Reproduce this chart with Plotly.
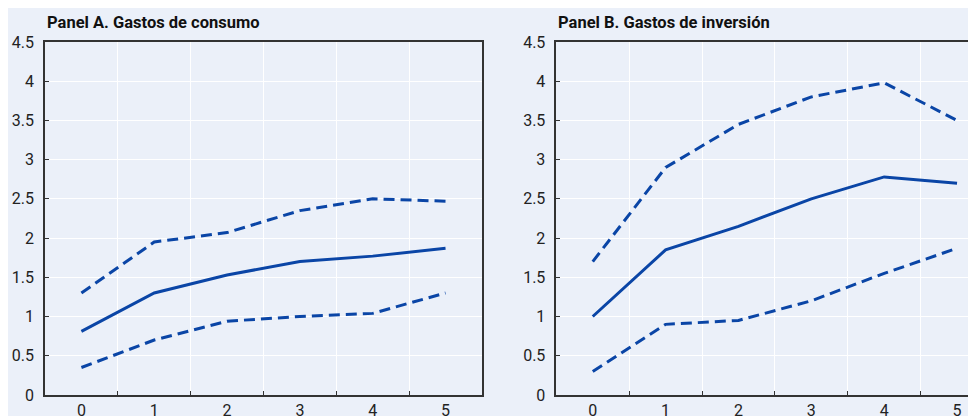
import plotly.graph_objects as go
from plotly.subplots import make_subplots

# horizon (years)
horizon = ["0", "1", "2", "3", "4", "5"]

# Panel A: consumption spending
cons_mid = [0.81, 1.30, 1.53, 1.70, 1.77, 1.87]
cons_hi = [1.30, 1.95, 2.07, 2.35, 2.50, 2.47]
cons_lo = [0.35, 0.70, 0.94, 1.00, 1.04, 1.30]

# Panel B: investment spending
inv_mid = [1.00, 1.85, 2.15, 2.50, 2.78, 2.70]
inv_hi = [1.70, 2.90, 3.45, 3.80, 3.98, 3.50]
inv_lo = [0.30, 0.90, 0.95, 1.20, 1.55, 1.87]

titles = ["Panel A. Gastos de consumo", "Panel B. Gastos de inversión"]

BG = "#EBF0F9"
BLUE = "#0A45A6"
AXIS = "#333333"
FONT = "Roboto, sans-serif"

fig = make_subplots(rows=1, cols=2)

panels = [(cons_mid, cons_hi, cons_lo), (inv_mid, inv_hi, inv_lo)]
for col, (mid, hi, lo) in enumerate(panels, start=1):
    fig.add_trace(go.Scatter(x=horizon, y=mid, mode="lines",
                             line=dict(color=BLUE, width=3)), row=1, col=col)
    for band in (hi, lo):
        fig.add_trace(go.Scatter(x=horizon, y=band, mode="lines",
                                 line=dict(color=BLUE, width=3, dash="11px,6px")),
                      row=1, col=col)

axis_common = dict(
    showline=True, linecolor=AXIS, linewidth=1.5, mirror=True,
    ticks="inside", ticklen=4, tickcolor=AXIS,
    showgrid=True, gridcolor="white", gridwidth=1.2,
    tickfont=dict(family=FONT, size=16, color="#222"),
    zeroline=False,
)

fig.update_xaxes(type="category", tickson="boundaries", **axis_common)
fig.update_yaxes(range=[0, 4.5], dtick=0.5, ticklabelstandoff=6, **axis_common)

xa = [0.0379, 0.4856]
xb = [0.5618, 1.0]
ydom = [0.048, 0.937]

fig.update_layout(
    xaxis=dict(domain=xa, range=[-0.5, 5.5]),
    xaxis2=dict(domain=xb, range=[-0.5, 5.37]),
    yaxis=dict(domain=ydom),
    yaxis2=dict(domain=ydom, mirror=False),
    width=976, height=416,
    margin=dict(l=0, r=0, t=0, b=0),
    paper_bgcolor=BG, plot_bgcolor=BG,
    showlegend=False,
)

for x0, t in zip([xa[0], xb[0]], titles):
    fig.add_annotation(text="<b>" + t + "</b>", xref="paper", yref="paper",
                       x=x0, y=0.987, xanchor="left", yanchor="middle",
                       showarrow=False,
                       font=dict(family=FONT, size=16.5, color="#111"))

fig.write_html("out.html")
